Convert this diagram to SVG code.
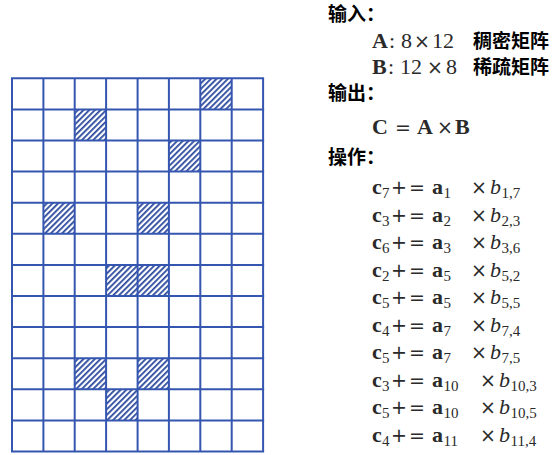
<svg xmlns="http://www.w3.org/2000/svg" width="556" height="455" viewBox="0 0 556 455">
<defs>
<pattern id="hatch" patternUnits="userSpaceOnUse" width="4" height="4" patternTransform="rotate(45)">
<rect width="4" height="4" fill="#ffffff"/>
<rect x="0" y="0" width="1.8" height="4" fill="#2d4a9e"/>
</pattern>
</defs>
<style>
.grid line{stroke:#3556b0;stroke-width:2}
.h{fill:url(#hatch);stroke:none}
.cj{font-family:"Noto Sans CJK SC",sans-serif;font-weight:bold;font-size:19px;fill:#000}
.m{font-family:"Liberation Serif","DejaVu Serif",serif;font-size:22px;fill:#2a2a2a}
.o{font-family:"DejaVu Sans",sans-serif;font-weight:normal;font-size:19px}
.b{font-weight:bold}
.i{font-style:italic}
.s{font-size:15px}
</style>
<rect width="556" height="455" fill="#ffffff"/>
<g id="matrix">
<g id="hatched">
<rect class="h" x="200.3" y="78.3" width="31.4" height="31.1"/>
<rect class="h" x="74.7" y="109.4" width="31.4" height="31.1"/>
<rect class="h" x="168.9" y="140.5" width="31.4" height="31.1"/>
<rect class="h" x="43.4" y="202.7" width="31.4" height="31.1"/>
<rect class="h" x="137.6" y="202.7" width="31.4" height="31.1"/>
<rect class="h" x="106.1" y="264.9" width="31.4" height="31.1"/>
<rect class="h" x="137.6" y="264.9" width="31.4" height="31.1"/>
<rect class="h" x="74.7" y="358.2" width="31.4" height="31.1"/>
<rect class="h" x="137.6" y="358.2" width="31.4" height="31.1"/>
<rect class="h" x="106.1" y="389.3" width="31.4" height="31.1"/>
</g>
<g class="grid">
<line x1="12" y1="78.3" x2="12" y2="451.5"/>
<line x1="43.4" y1="78.3" x2="43.4" y2="451.5"/>
<line x1="74.7" y1="78.3" x2="74.7" y2="451.5"/>
<line x1="106.1" y1="78.3" x2="106.1" y2="451.5"/>
<line x1="137.6" y1="78.3" x2="137.6" y2="451.5"/>
<line x1="168.9" y1="78.3" x2="168.9" y2="451.5"/>
<line x1="200.3" y1="78.3" x2="200.3" y2="451.5"/>
<line x1="231.7" y1="78.3" x2="231.7" y2="451.5"/>
<line x1="263.1" y1="78.3" x2="263.1" y2="451.5"/>
<line x1="11" y1="78.3" x2="264.1" y2="78.3"/>
<line x1="11" y1="109.4" x2="264.1" y2="109.4"/>
<line x1="11" y1="140.5" x2="264.1" y2="140.5"/>
<line x1="11" y1="171.6" x2="264.1" y2="171.6"/>
<line x1="11" y1="202.7" x2="264.1" y2="202.7"/>
<line x1="11" y1="233.8" x2="264.1" y2="233.8"/>
<line x1="11" y1="264.9" x2="264.1" y2="264.9"/>
<line x1="11" y1="296" x2="264.1" y2="296"/>
<line x1="11" y1="327.1" x2="264.1" y2="327.1"/>
<line x1="11" y1="358.2" x2="264.1" y2="358.2"/>
<line x1="11" y1="389.3" x2="264.1" y2="389.3"/>
<line x1="11" y1="420.4" x2="264.1" y2="420.4"/>
<line x1="11" y1="451.5" x2="264.1" y2="451.5"/>
</g>
</g>
<g id="input">
<text class="cj" x="328" y="21">输入：</text>
<text class="m" y="48"><tspan class="b" x="372">A</tspan><tspan x="389">:</tspan><tspan x="401">8</tspan><tspan class="o" x="414">×</tspan><tspan x="432">12</tspan><tspan class="cj" x="473">稠密矩阵</tspan></text>
<text class="m" y="74"><tspan class="b" x="372">B</tspan><tspan x="388">:</tspan><tspan x="400">12</tspan><tspan class="o" x="427">×</tspan><tspan x="446">8</tspan><tspan class="cj" x="473">稀疏矩阵</tspan></text>
</g>
<g id="output">
<text class="cj" x="328" y="100">输出：</text>
<text class="m" y="134"><tspan class="b" x="372">C</tspan><tspan class="o" x="395">=</tspan><tspan class="b" x="417">A</tspan><tspan class="o" x="437">×</tspan><tspan class="b" x="455">B</tspan></text>
</g>
<g id="operations">
<text class="cj" x="328" y="164">操作：</text>
<text class="m" y="194"><tspan class="b" x="372">c</tspan><tspan class="s" x="382" dy="4">7</tspan><tspan class="o" x="391" dy="-4">+</tspan><tspan class="o" x="409">=</tspan><tspan class="b" x="432">a</tspan><tspan class="s" x="443.5" dy="4">1</tspan><tspan class="o" x="471" dy="-4">×</tspan><tspan class="i" x="490">b</tspan><tspan class="s" x="501.5" dy="4">1,7</tspan></text>
<text class="m" y="221.5"><tspan class="b" x="372">c</tspan><tspan class="s" x="382" dy="4">3</tspan><tspan class="o" x="391" dy="-4">+</tspan><tspan class="o" x="409">=</tspan><tspan class="b" x="432">a</tspan><tspan class="s" x="443.5" dy="4">2</tspan><tspan class="o" x="471" dy="-4">×</tspan><tspan class="i" x="490">b</tspan><tspan class="s" x="501.5" dy="4">2,3</tspan></text>
<text class="m" y="249"><tspan class="b" x="372">c</tspan><tspan class="s" x="382" dy="4">6</tspan><tspan class="o" x="391" dy="-4">+</tspan><tspan class="o" x="409">=</tspan><tspan class="b" x="432">a</tspan><tspan class="s" x="443.5" dy="4">3</tspan><tspan class="o" x="471" dy="-4">×</tspan><tspan class="i" x="490">b</tspan><tspan class="s" x="501.5" dy="4">3,6</tspan></text>
<text class="m" y="276.5"><tspan class="b" x="372">c</tspan><tspan class="s" x="382" dy="4">2</tspan><tspan class="o" x="391" dy="-4">+</tspan><tspan class="o" x="409">=</tspan><tspan class="b" x="432">a</tspan><tspan class="s" x="443.5" dy="4">5</tspan><tspan class="o" x="471" dy="-4">×</tspan><tspan class="i" x="490">b</tspan><tspan class="s" x="501.5" dy="4">5,2</tspan></text>
<text class="m" y="304"><tspan class="b" x="372">c</tspan><tspan class="s" x="382" dy="4">5</tspan><tspan class="o" x="391" dy="-4">+</tspan><tspan class="o" x="409">=</tspan><tspan class="b" x="432">a</tspan><tspan class="s" x="443.5" dy="4">5</tspan><tspan class="o" x="471" dy="-4">×</tspan><tspan class="i" x="490">b</tspan><tspan class="s" x="501.5" dy="4">5,5</tspan></text>
<text class="m" y="331.5"><tspan class="b" x="372">c</tspan><tspan class="s" x="382" dy="4">4</tspan><tspan class="o" x="391" dy="-4">+</tspan><tspan class="o" x="409">=</tspan><tspan class="b" x="432">a</tspan><tspan class="s" x="443.5" dy="4">7</tspan><tspan class="o" x="471" dy="-4">×</tspan><tspan class="i" x="490">b</tspan><tspan class="s" x="501.5" dy="4">7,4</tspan></text>
<text class="m" y="359"><tspan class="b" x="372">c</tspan><tspan class="s" x="382" dy="4">5</tspan><tspan class="o" x="391" dy="-4">+</tspan><tspan class="o" x="409">=</tspan><tspan class="b" x="432">a</tspan><tspan class="s" x="443.5" dy="4">7</tspan><tspan class="o" x="471" dy="-4">×</tspan><tspan class="i" x="490">b</tspan><tspan class="s" x="501.5" dy="4">7,5</tspan></text>
<text class="m" y="386.5"><tspan class="b" x="372">c</tspan><tspan class="s" x="382" dy="4">3</tspan><tspan class="o" x="391" dy="-4">+</tspan><tspan class="o" x="409">=</tspan><tspan class="b" x="432">a</tspan><tspan class="s" x="443.5" dy="4">10</tspan><tspan class="o" x="480" dy="-4">×</tspan><tspan class="i" x="499">b</tspan><tspan class="s" x="510.5" dy="4">10,3</tspan></text>
<text class="m" y="414"><tspan class="b" x="372">c</tspan><tspan class="s" x="382" dy="4">5</tspan><tspan class="o" x="391" dy="-4">+</tspan><tspan class="o" x="409">=</tspan><tspan class="b" x="432">a</tspan><tspan class="s" x="443.5" dy="4">10</tspan><tspan class="o" x="480" dy="-4">×</tspan><tspan class="i" x="499">b</tspan><tspan class="s" x="510.5" dy="4">10,5</tspan></text>
<text class="m" y="441.5"><tspan class="b" x="372">c</tspan><tspan class="s" x="382" dy="4">4</tspan><tspan class="o" x="391" dy="-4">+</tspan><tspan class="o" x="409">=</tspan><tspan class="b" x="432">a</tspan><tspan class="s" x="443.5" dy="4">11</tspan><tspan class="o" x="480" dy="-4">×</tspan><tspan class="i" x="499">b</tspan><tspan class="s" x="510.5" dy="4">11,4</tspan></text>
</g>
<g id="connectors"></g>
</svg>
